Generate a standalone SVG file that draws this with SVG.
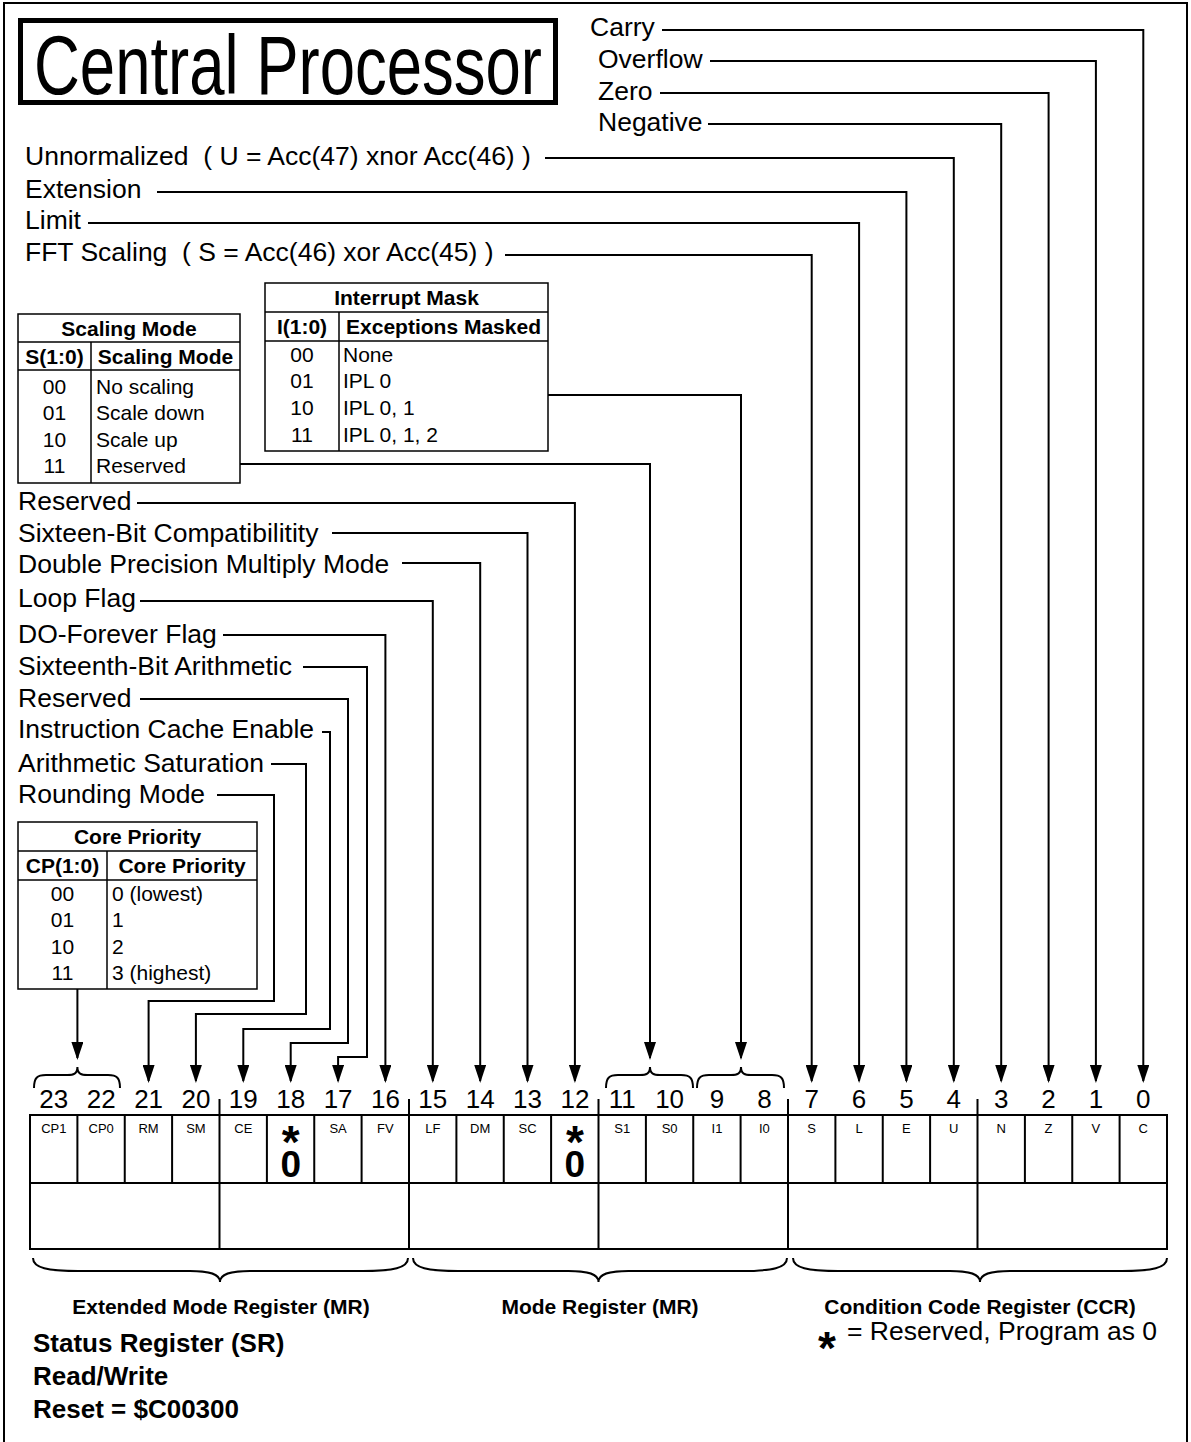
<svg xmlns="http://www.w3.org/2000/svg" width="1191" height="1442" viewBox="0 0 1191 1442">
<defs>
<marker id="ah" markerUnits="userSpaceOnUse" markerWidth="18" markerHeight="12" viewBox="0 0 18 12" refX="16" refY="6" orient="auto"><path d="M0,0 L18,6 L0,12 z" fill="#000"/></marker>
<style>
text{font-family:"Liberation Sans",Arial,Helvetica,sans-serif;fill:#000}
.lbl{font-size:26.5px}
.tb{font-size:21px}
.tbb{font-size:21px;font-weight:bold}
.c{text-anchor:middle}
.num{font-size:26px;text-anchor:middle}
.cell{font-size:13px;text-anchor:middle}
.ln{fill:none;stroke:#000;stroke-width:2}
.ar{fill:none;stroke:#000;stroke-width:2;marker-end:url(#ah)}
.tbl{fill:#fff;stroke:#000;stroke-width:1.5}
.tl{stroke:#000;stroke-width:1.5}
.brace{fill:none;stroke:#000;stroke-width:2}
.bl{font-size:21px;font-weight:bold;text-anchor:middle}
.big{font-size:26px;font-weight:bold}
</style>
</defs>
<rect x="0" y="0" width="1191" height="1442" fill="#fff"/>
<path class="ln" d="M4,1442 V3 H1187 V1442" stroke-width="2.5"/>

<g id="title">
<rect x="20.5" y="20.5" width="535" height="82" fill="#fff" stroke="#000" stroke-width="5"/>
<text x="34" y="94" font-size="84" textLength="508" lengthAdjust="spacingAndGlyphs">Central Processor</text>
</g>

<g id="connectors">
<path class="ar" d="M662,30 H1143.3 V1081"/>
<path class="ar" d="M710,61 H1095.9 V1081"/>
<path class="ar" d="M660,93 H1048.6 V1081"/>
<path class="ar" d="M708,124 H1001.2 V1081"/>
<path class="ar" d="M545,158 H953.8 V1081"/>
<path class="ar" d="M157,192 H906.4 V1081"/>
<path class="ar" d="M88,223 H859.1 V1081"/>
<path class="ar" d="M505,255 H811.7 V1081"/>
<path class="ar" d="M548,395 H741 V1058"/>
<path class="ar" d="M240,464 H650 V1058"/>
<path class="ar" d="M137,503 H574.9 V1081"/>
<path class="ar" d="M332,533 H527.5 V1081"/>
<path class="ar" d="M402,563 H480.2 V1081"/>
<path class="ar" d="M140,601 H432.8 V1081"/>
<path class="ar" d="M223,635 H385.4 V1081"/>
<path class="ar" d="M303,667 H367 V1057 H338.1 V1081"/>
<path class="ar" d="M140,699 H348 V1043 H290.7 V1081"/>
<path class="ar" d="M322,732 H330 V1029 H243.3 V1081"/>
<path class="ar" d="M271,764 H306 V1014 H195.9 V1081"/>
<path class="ar" d="M217,795 H274 V1001 H148.6 V1081"/>
<path class="ar" d="M77.4,989 V1058"/>
</g>

<g id="flag-labels" class="lbl">
<text x="590" y="36">Carry</text>
<text x="598" y="68">Overflow</text>
<text x="598" y="100">Zero</text>
<text x="598" y="131">Negative</text>
<text x="25" y="165" xml:space="preserve">Unnormalized  ( U = Acc(47) xnor Acc(46) )</text>
<text x="25" y="198">Extension</text>
<text x="25" y="229">Limit</text>
<text x="25" y="261" xml:space="preserve">FFT Scaling  ( S = Acc(46) xor Acc(45) )</text>
<text x="18" y="510">Reserved</text>
<text x="18" y="542">Sixteen-Bit Compatibilitity</text>
<text x="18" y="573">Double Precision Multiply Mode</text>
<text x="18" y="607">Loop Flag</text>
<text x="18" y="643">DO-Forever Flag</text>
<text x="18" y="675">Sixteenth-Bit Arithmetic</text>
<text x="18" y="707">Reserved</text>
<text x="18" y="738">Instruction Cache Enable</text>
<text x="18" y="772">Arithmetic Saturation</text>
<text x="18" y="803">Rounding Mode</text>
</g>

<g id="interrupt-mask-table">
<rect class="tbl" x="265" y="283" width="283" height="168"/>
<line class="tl" x1="265" y1="312" x2="548" y2="312"/>
<line class="tl" x1="265" y1="341" x2="548" y2="341"/>
<line class="tl" x1="339" y1="312" x2="339" y2="451"/>
<text class="tbb c" x="406.5" y="305">Interrupt Mask</text>
<text class="tbb c" x="302" y="334">I(1:0)</text>
<text class="tbb c" x="443.5" y="334">Exceptions Masked</text>
<text class="tb c" x="302" y="362">00</text>
<text class="tb c" x="302" y="388">01</text>
<text class="tb c" x="302" y="415">10</text>
<text class="tb c" x="302" y="442">11</text>
<text class="tb" x="343" y="362">None</text>
<text class="tb" x="343" y="388">IPL 0</text>
<text class="tb" x="343" y="415">IPL 0, 1</text>
<text class="tb" x="343" y="442">IPL 0, 1, 2</text>
</g>

<g id="scaling-mode-table">
<rect class="tbl" x="18" y="314" width="222" height="169"/>
<line class="tl" x1="18" y1="342" x2="240" y2="342"/>
<line class="tl" x1="18" y1="370" x2="240" y2="370"/>
<line class="tl" x1="91" y1="342" x2="91" y2="483"/>
<text class="tbb c" x="129" y="335.5">Scaling Mode</text>
<text class="tbb c" x="54.5" y="363.5">S(1:0)</text>
<text class="tbb c" x="165.5" y="363.5">Scaling Mode</text>
<text class="tb c" x="54.5" y="394">00</text>
<text class="tb c" x="54.5" y="420">01</text>
<text class="tb c" x="54.5" y="447">10</text>
<text class="tb c" x="54.5" y="473">11</text>
<text class="tb" x="96" y="394">No scaling</text>
<text class="tb" x="96" y="420">Scale down</text>
<text class="tb" x="96" y="447">Scale up</text>
<text class="tb" x="96" y="473">Reserved</text>
</g>

<g id="core-priority-table">
<rect class="tbl" x="18" y="822" width="239" height="167"/>
<line class="tl" x1="18" y1="851" x2="257" y2="851"/>
<line class="tl" x1="18" y1="880" x2="257" y2="880"/>
<line class="tl" x1="107" y1="851" x2="107" y2="989"/>
<text class="tbb c" x="137.5" y="844">Core Priority</text>
<text class="tbb c" x="62.5" y="873">CP(1:0)</text>
<text class="tbb c" x="182" y="873">Core Priority</text>
<text class="tb c" x="62.5" y="900.5">00</text>
<text class="tb c" x="62.5" y="926.5">01</text>
<text class="tb c" x="62.5" y="953.5">10</text>
<text class="tb c" x="62.5" y="979.5">11</text>
<text class="tb" x="112" y="900.5">0 (lowest)</text>
<text class="tb" x="112" y="926.5">1</text>
<text class="tb" x="112" y="953.5">2</text>
<text class="tb" x="112" y="979.5">3 (highest)</text>
</g>

<g id="top-braces">
<path class="brace" d="M34,1088 C34,1078 37,1075 46,1075 L67.4,1075 C73.4,1075 77.4,1074 77.4,1067 C77.4,1074 81.4,1075 87.4,1075 L108,1075 C117,1075 120,1078 120,1088"/>
<path class="brace" d="M606,1088 C606,1078 609,1075 618,1075 L640,1075 C646,1075 650,1074 650,1067 C650,1074 654,1075 660,1075 L681,1075 C690,1075 693,1078 693,1088"/>
<path class="brace" d="M697,1088 C697,1078 700,1075 709,1075 L731,1075 C737,1075 741,1074 741,1067 C741,1074 745,1075 751,1075 L772,1075 C781,1075 784,1078 784,1088"/>
</g>

<g id="bit-numbers" class="num">
<text x="53.8" y="1108">23</text>
<text x="101.2" y="1108">22</text>
<text x="148.6" y="1108">21</text>
<text x="195.9" y="1108">20</text>
<text x="243.3" y="1108">19</text>
<text x="290.7" y="1108">18</text>
<text x="338.1" y="1108">17</text>
<text x="385.4" y="1108">16</text>
<text x="432.8" y="1108">15</text>
<text x="480.2" y="1108">14</text>
<text x="527.5" y="1108">13</text>
<text x="574.9" y="1108">12</text>
<text x="622.3" y="1108">11</text>
<text x="669.6" y="1108">10</text>
<text x="717" y="1108">9</text>
<text x="764.4" y="1108">8</text>
<text x="811.7" y="1108">7</text>
<text x="859.1" y="1108">6</text>
<text x="906.4" y="1108">5</text>
<text x="953.8" y="1108">4</text>
<text x="1001.2" y="1108">3</text>
<text x="1048.6" y="1108">2</text>
<text x="1095.9" y="1108">1</text>
<text x="1143.3" y="1108">0</text>
</g>

<g id="status-register">
<rect x="30" y="1115" width="1137" height="134" fill="none" stroke="#000" stroke-width="2"/>
<line class="ln" x1="30" y1="1183" x2="1167" y2="1183"/>
<path class="ln" d="M77.4,1115 V1183 M124.75,1115 V1183 M172.1,1115 V1183 M266.9,1115 V1183 M314.25,1115 V1183 M361.6,1115 V1183 M456.4,1115 V1183 M503.75,1115 V1183 M551.1,1115 V1183 M645.9,1115 V1183 M693.25,1115 V1183 M740.6,1115 V1183 M835.4,1115 V1183 M882.75,1115 V1183 M930.1,1115 V1183 M1024.9,1115 V1183 M1072.25,1115 V1183 M1119.6,1115 V1183"/>
<path class="ln" d="M219.5,1099 V1249 M409,1099 V1249 M598.5,1099 V1249 M788,1099 V1249 M977.5,1099 V1249"/>
<g class="cell">
<text x="53.8" y="1133">CP1</text>
<text x="101.2" y="1133">CP0</text>
<text x="148.6" y="1133">RM</text>
<text x="195.9" y="1133">SM</text>
<text x="243.3" y="1133">CE</text>
<text x="338.1" y="1133">SA</text>
<text x="385.4" y="1133">FV</text>
<text x="432.8" y="1133">LF</text>
<text x="480.2" y="1133">DM</text>
<text x="527.5" y="1133">SC</text>
<text x="622.3" y="1133">S1</text>
<text x="669.6" y="1133">S0</text>
<text x="717" y="1133">I1</text>
<text x="764.4" y="1133">I0</text>
<text x="811.7" y="1133">S</text>
<text x="859.1" y="1133">L</text>
<text x="906.4" y="1133">E</text>
<text x="953.8" y="1133">U</text>
<text x="1001.2" y="1133">N</text>
<text x="1048.6" y="1133">Z</text>
<text x="1095.9" y="1133">V</text>
<text x="1143.3" y="1133">C</text>
</g>
<text x="290.7" y="1158" font-size="46" font-weight="bold" text-anchor="middle">*</text>
<text x="290.7" y="1177" font-size="37" font-weight="bold" text-anchor="middle">0</text>
<text x="574.9" y="1158" font-size="46" font-weight="bold" text-anchor="middle">*</text>
<text x="574.9" y="1177" font-size="37" font-weight="bold" text-anchor="middle">0</text>
</g>

<g id="bottom-braces">
<path class="brace" d="M33,1258 C33,1268 48,1271 78,1271 L190,1271 C210,1271 220,1274 220,1282 C220,1274 230,1271 250,1271 L363,1271 C393,1271 408,1268 408,1258"/>
<path class="brace" d="M413,1258 C413,1268 428,1271 458,1271 L568.5,1271 C588.5,1271 598.5,1274 598.5,1282 C598.5,1274 608.5,1271 628.5,1271 L742,1271 C772,1271 787,1268 787,1258"/>
<path class="brace" d="M793,1258 C793,1268 808,1271 838,1271 L950,1271 C970,1271 980,1274 980,1282 C980,1274 990,1271 1010,1271 L1122,1271 C1152,1271 1167,1268 1167,1258"/>
</g>

<g id="register-names">
<text class="bl" x="221" y="1314">Extended Mode Register (MR)</text>
<text class="bl" x="600" y="1314">Mode Register (MR)</text>
<text class="bl" x="980" y="1314">Condition Code Register (CCR)</text>
</g>

<g id="register-info" class="big">
<text x="33" y="1352">Status Register (SR)</text>
<text x="33" y="1385">Read/Write</text>
<text x="33" y="1418">Reset = $C00300</text>
</g>

<g id="legend">
<text x="827" y="1364" font-size="46" font-weight="bold" text-anchor="middle">*</text>
<text class="lbl" x="847" y="1340">= Reserved, Program as 0</text>
</g>
</svg>
